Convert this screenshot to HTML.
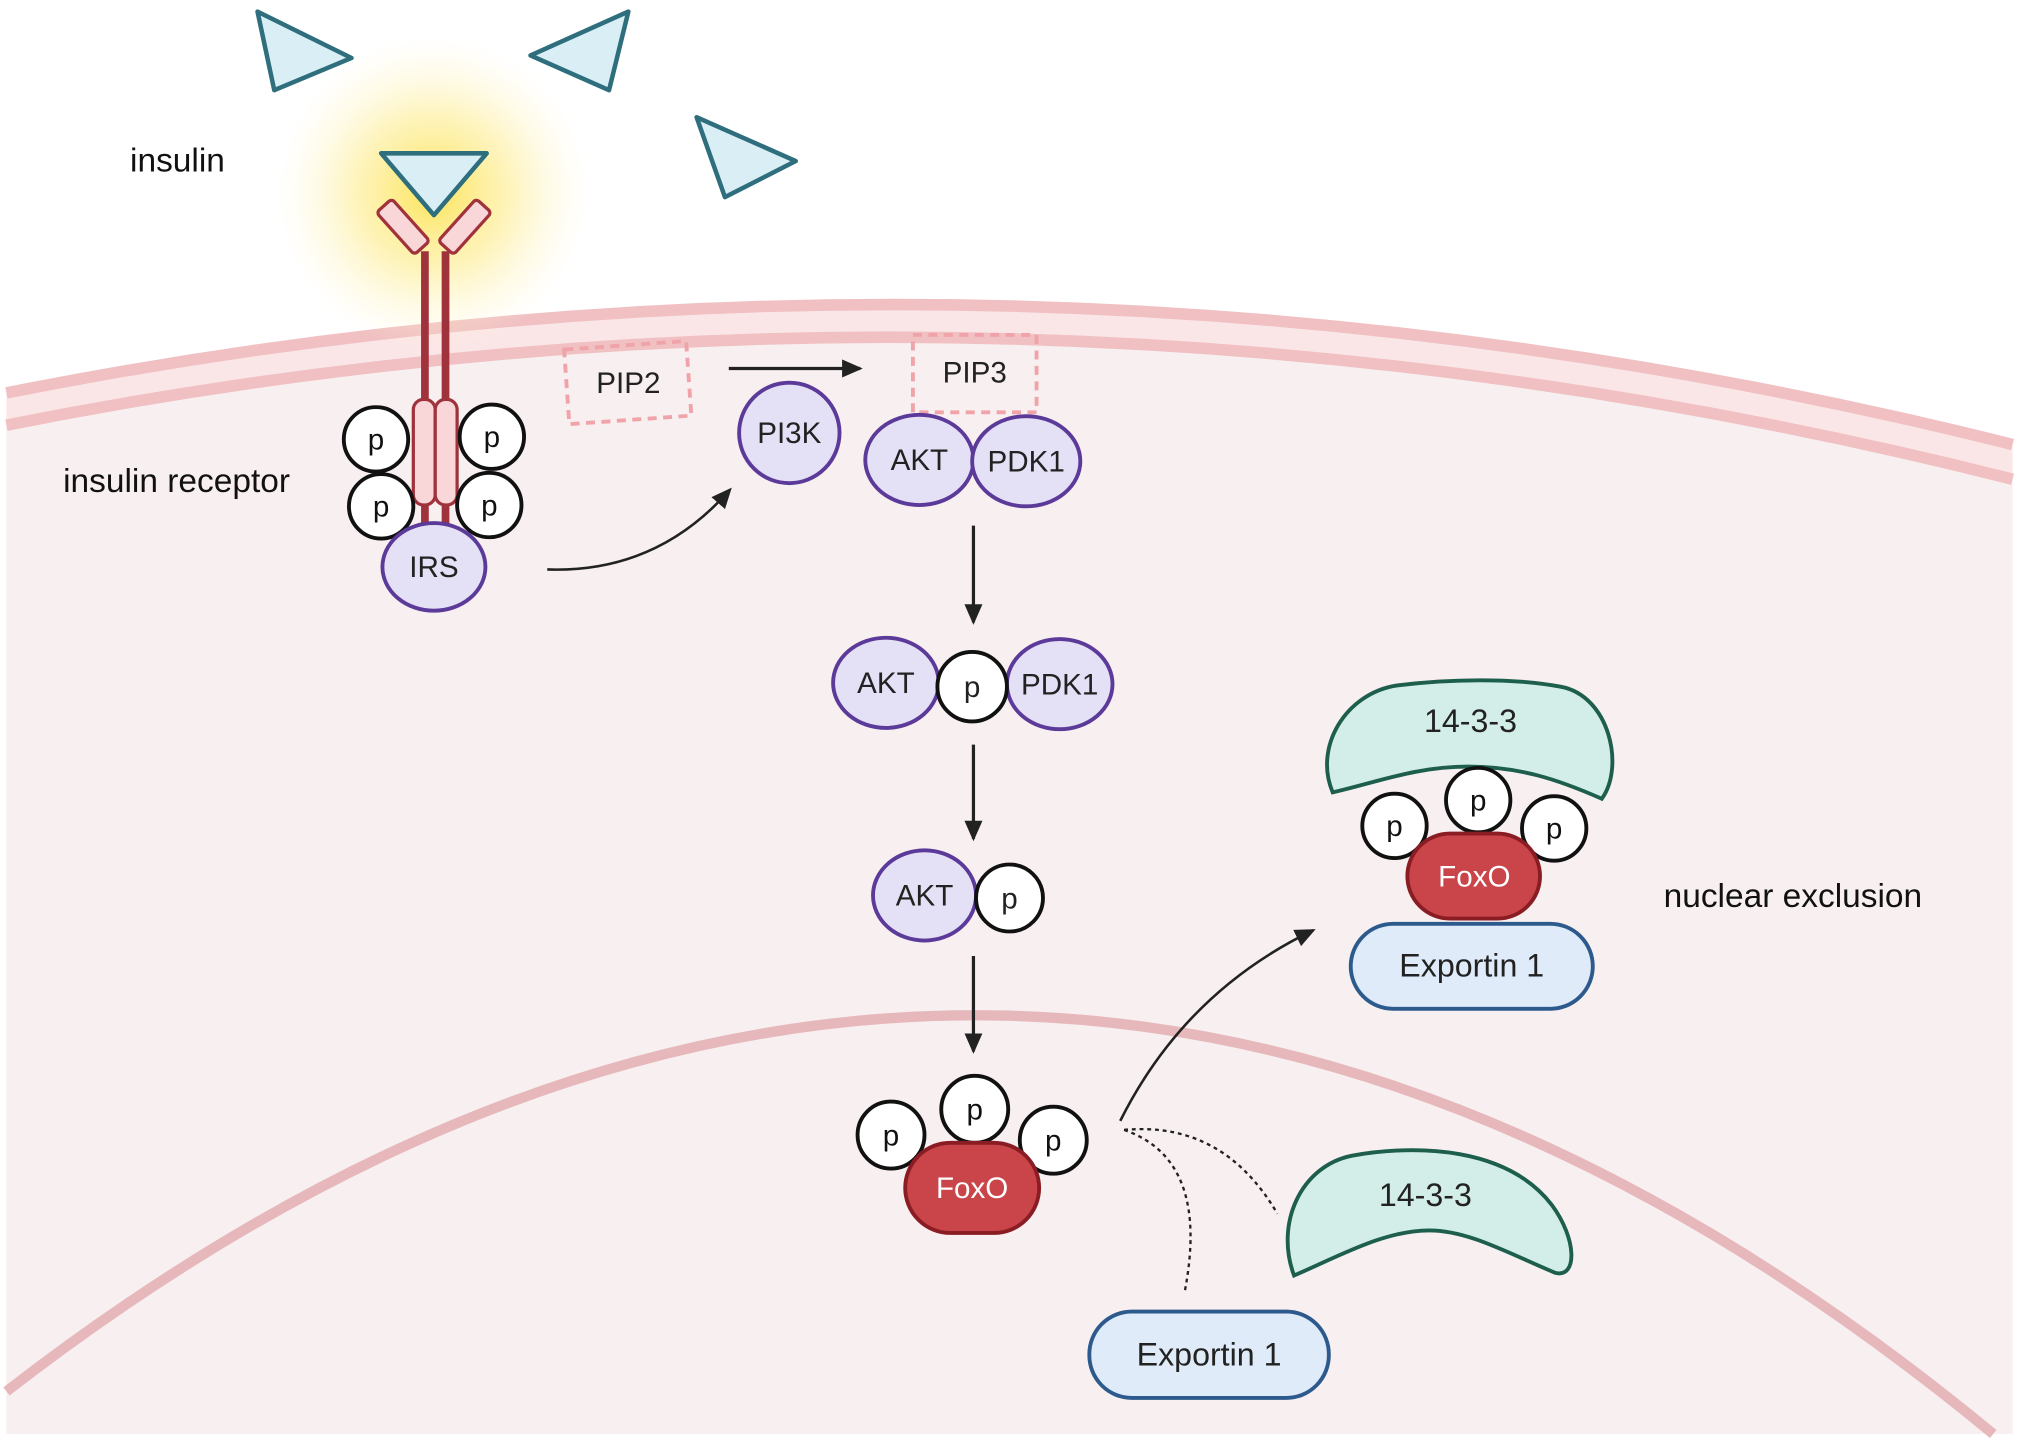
<!DOCTYPE html>
<html><head><meta charset="utf-8"><style>
html,body{margin:0;padding:0;background:#fff;}
svg{display:block;}
text{font-family:"Liberation Sans",sans-serif;}
</style></head><body>
<svg width="2019" height="1452" viewBox="0 0 1568 1127" preserveAspectRatio="none" xmlns="http://www.w3.org/2000/svg">
<defs>
<radialGradient id="glow" cx="0.5" cy="0.5" r="0.5">
<stop offset="0" stop-color="#fde45a" stop-opacity="1"/>
<stop offset="0.5" stop-color="#fdee99" stop-opacity="0.65"/>
<stop offset="1" stop-color="#fff8d8" stop-opacity="0"/>
</radialGradient>
<marker id="ah2" markerWidth="16" markerHeight="14" refX="14" refY="7" orient="auto" markerUnits="userSpaceOnUse"><path d="M0,0 L16,7 L0,14 Z" fill="#222"/></marker>
</defs>
<rect width="1568" height="1127" fill="#fff"/>
<path d="M5,305 Q784,150 1563,345 L1563,1113 L5,1113 Z" fill="#fbe6e7"/>
<path d="M5,330 Q784,175 1563,372 L1563,1113 L5,1113 Z" fill="#f8eff0"/>
<path d="M5,305 Q784,150 1563,345" fill="none" stroke="#f0c0c3" stroke-width="9"/>
<path d="M5,330 Q784,175 1563,372" fill="none" stroke="#f0c0c3" stroke-width="9"/>
<path d="M5,1080 Q780,480 1548,1113" fill="none" stroke="#e6b8bc" stroke-width="8"/>
<circle cx="336" cy="150" r="122" fill="url(#glow)"/>
<g fill="#d9eef5" stroke="#2e6e7d" stroke-width="3.5" stroke-linejoin="round">
<path d="M200,9 L273,45 L213,70 Z"/>
<path d="M412,43 L488,9 L473,70 Z"/>
<path d="M541,91 L618,125 L563,153 Z"/>
<path d="M296,119 L378,119 L337,167 Z"/>
</g>
<g stroke="#a0323c" stroke-width="6" fill="none">
<line x1="330" y1="195" x2="330" y2="410"/>
<line x1="346" y1="195" x2="346" y2="410"/>
</g>
<g fill="#f9d6d8" stroke="#a0323c" stroke-width="2.5">
<rect x="-8" y="-22" width="16" height="44" rx="3" transform="translate(313,176) rotate(-42)"/>
<rect x="-8" y="-22" width="16" height="44" rx="3" transform="translate(361,176) rotate(42)"/>
<rect x="321" y="310" width="17" height="82" rx="8"/>
<rect x="338" y="310" width="17" height="82" rx="8"/>
</g>
<g fill="#fff" stroke="#111" stroke-width="3">
<circle cx="292" cy="341" r="25"/><circle cx="382" cy="339" r="25"/>
<circle cx="296" cy="393" r="25"/><circle cx="380" cy="392" r="25"/>
</g>
<g font-size="23" text-anchor="middle" fill="#111">
<text x="292" y="349">p</text><text x="382" y="347">p</text>
<text x="296" y="401">p</text><text x="380" y="400">p</text>
</g>
<ellipse cx="337" cy="440" rx="40" ry="34" fill="#e4e0f5" stroke="#5b3a99" stroke-width="3"/>
<text x="337" y="448" font-size="23" text-anchor="middle" fill="#222">IRS</text>
<text x="101" y="133" font-size="26" fill="#111">insulin</text>
<text x="49" y="382" font-size="26" fill="#111">insulin receptor</text>
<g fill="none" stroke="#f0a4a9" stroke-width="3" stroke-dasharray="7,5">
<rect x="440" y="268" width="95" height="58" transform="rotate(-4 487 297)"/>
<rect x="709" y="260" width="96" height="60"/>
</g>
<text x="488" y="305" font-size="23" text-anchor="middle" fill="#222">PIP2</text>
<text x="757" y="297" font-size="23" text-anchor="middle" fill="#222">PIP3</text>
<line x1="566" y1="286" x2="668" y2="286" stroke="#222" stroke-width="2.5" marker-end="url(#ah2)"/>
<path d="M425,442 Q510,445 567,380" fill="none" stroke="#222" stroke-width="2" marker-end="url(#ah2)"/>
<g fill="#e4e0f5" stroke="#5b3a99" stroke-width="3">
<circle cx="613" cy="336" r="39"/>
<ellipse cx="714" cy="357" rx="42" ry="35"/>
<ellipse cx="797" cy="358" rx="42" ry="35"/>
<ellipse cx="688" cy="530" rx="41" ry="35"/>
<ellipse cx="823" cy="531" rx="41" ry="35"/>
<ellipse cx="718" cy="695" rx="40" ry="35"/>
</g>
<g fill="#fff" stroke="#111" stroke-width="3">
<circle cx="755" cy="533" r="27"/>
<circle cx="784" cy="697" r="26"/>
</g>
<g font-size="23" text-anchor="middle" fill="#222">
<text x="613" y="344">PI3K</text>
<text x="714" y="365">AKT</text><text x="797" y="366">PDK1</text>
<text x="688" y="538">AKT</text><text x="755" y="541">p</text><text x="823" y="539">PDK1</text>
<text x="718" y="703">AKT</text><text x="784" y="705">p</text>
</g>
<g stroke="#222" stroke-width="2.5" marker-end="url(#ah2)">
<line x1="756" y1="408" x2="756" y2="483"/>
<line x1="756" y1="578" x2="756" y2="651"/>
<line x1="756" y1="742" x2="756" y2="816"/>
</g>
<g fill="#fff" stroke="#111" stroke-width="3">
<circle cx="692" cy="881" r="26"/><circle cx="757" cy="861" r="26"/><circle cx="818" cy="885" r="26"/>
</g>
<rect x="703" y="887" width="104" height="70" rx="35" fill="#c9454a" stroke="#8a1d24" stroke-width="3"/>
<g font-size="23" text-anchor="middle" fill="#111">
<text x="692" y="889">p</text><text x="757" y="869">p</text><text x="818" y="893">p</text>
</g>
<text x="755" y="930" font-size="23" text-anchor="middle" fill="#fff">FoxO</text>
<path d="M870,870 Q920,770 1020,722" fill="none" stroke="#222" stroke-width="2" marker-end="url(#ah2)"/>
<path d="M873,877 Q940,900 920,1003" fill="none" stroke="#222" stroke-width="1.8" stroke-dasharray="3,3"/>
<path d="M873,877 Q950,870 992,942" fill="none" stroke="#222" stroke-width="1.8" stroke-dasharray="3,3"/>
<path d="M1005,990 C990,950 1010,905 1050,897 C1100,888 1170,890 1205,935 C1225,962 1225,992 1208,988 C1170,972 1140,955 1110,955 C1075,955 1040,975 1005,990 Z" fill="#d3eee8" stroke="#1d5e4d" stroke-width="3"/>
<text x="1107" y="936" font-size="25" text-anchor="middle" fill="#222">14-3-3</text>
<rect x="846" y="1018" width="186" height="67" rx="33" fill="#dfebf8" stroke="#2d5a8c" stroke-width="3"/>
<text x="939" y="1060" font-size="25" text-anchor="middle" fill="#222">Exportin 1</text>
<path d="M1035,615 C1020,580 1045,538 1085,532 C1125,527 1175,526 1212,533 C1250,540 1262,595 1244,620 C1210,605 1180,595 1140,595 C1100,595 1070,607 1035,615 Z" fill="#d3eee8" stroke="#1d5e4d" stroke-width="3"/>
<text x="1142" y="568" font-size="25" text-anchor="middle" fill="#222">14-3-3</text>
<g fill="#fff" stroke="#111" stroke-width="3">
<circle cx="1083" cy="641" r="25"/><circle cx="1148" cy="621" r="25"/><circle cx="1207" cy="643" r="25"/>
</g>
<g font-size="23" text-anchor="middle" fill="#111">
<text x="1083" y="649">p</text><text x="1148" y="629">p</text><text x="1207" y="651">p</text>
</g>
<rect x="1093" y="647" width="103" height="66" rx="33" fill="#c9454a" stroke="#8a1d24" stroke-width="3"/>
<text x="1145" y="688" font-size="23" text-anchor="middle" fill="#fff">FoxO</text>
<rect x="1049" y="717" width="188" height="66" rx="33" fill="#dfebf8" stroke="#2d5a8c" stroke-width="3"/>
<text x="1143" y="758" font-size="25" text-anchor="middle" fill="#222">Exportin 1</text>
<text x="1292" y="704" font-size="26" fill="#111">nuclear exclusion</text>
</svg>
</body></html>
